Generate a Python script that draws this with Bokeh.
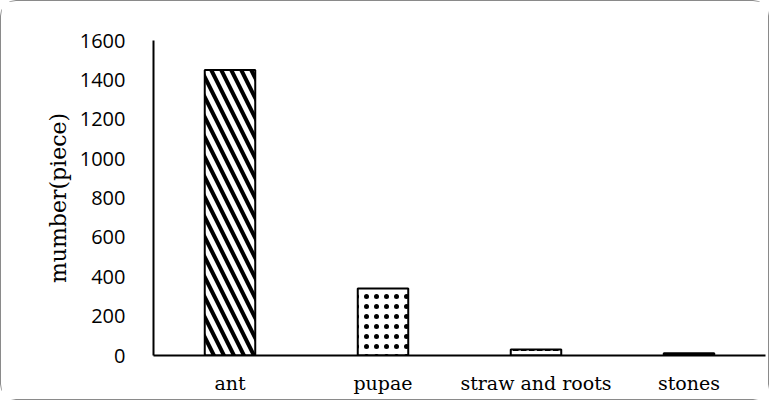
from bokeh.plotting import figure
from bokeh.models import Range1d, FixedTicker, ColumnDataSource
from bokeh.embed import file_html
from bokeh.resources import INLINE

categories = ["ant", "pupae", "straw and roots", "stones"]
values = [1450, 340, 30, 12]
hatches = ["\\", "dot", "horizontal_dash", " "]
fills = ["white", "white", "white", "black"]
y_ticks = [0, 200, 400, 600, 800, 1000, 1200, 1400, 1600]

src = ColumnDataSource(dict(cat=categories, val=values, hatch=hatches, fill=fills,
                            hscale=[20, 10, 8, 8], hweight=[4, 1, 2, 1]))

p = figure(x_range=categories, y_range=Range1d(0, 1600), width=769, height=400,
           output_backend="svg", toolbar_location=None,
           min_border_left=152, min_border_right=5, min_border_top=39, min_border_bottom=46)
p.x_range.range_padding = 0
p.styles = {"border": "1.5px solid #8a8a8a", "border-radius": "16px", "box-sizing": "border-box"}
p.outline_line_color = None
p.xgrid.grid_line_color = None
p.ygrid.grid_line_color = None

p.vbar(x="cat", top="val", width=0.33, source=src, fill_color="fill",
       line_color="black", line_width=2,
       hatch_pattern="hatch", hatch_color="black", hatch_weight="hweight", hatch_scale="hscale")

p.yaxis.ticker = FixedTicker(ticks=y_ticks)
p.yaxis.major_tick_line_color = None
p.yaxis.minor_tick_line_color = None
p.yaxis.axis_line_color = "black"
p.yaxis.axis_line_width = 2
p.yaxis.major_label_text_font = "Open Sans"
p.yaxis.major_label_text_font_size = "20px"
p.yaxis.major_label_text_color = "black"
p.yaxis.major_label_standoff = 22
p.yaxis.axis_label = "mumber(piece)"
p.yaxis.axis_label_text_font = "DejaVu Serif"
p.yaxis.axis_label_text_font_style = "normal"
p.yaxis.axis_label_text_font_size = "22px"
p.yaxis.axis_label_text_color = "black"
p.yaxis.axis_label_standoff = 6

p.xaxis.major_tick_line_color = None
p.xaxis.minor_tick_line_color = None
p.xaxis.axis_line_color = "black"
p.xaxis.axis_line_width = 2
p.xaxis.major_label_text_font = "DejaVu Serif"
p.xaxis.major_label_text_font_size = "19px"
p.xaxis.major_label_text_color = "black"
p.xaxis.major_label_standoff = 10

open("out.html", "w").write(file_html(p, INLINE))
